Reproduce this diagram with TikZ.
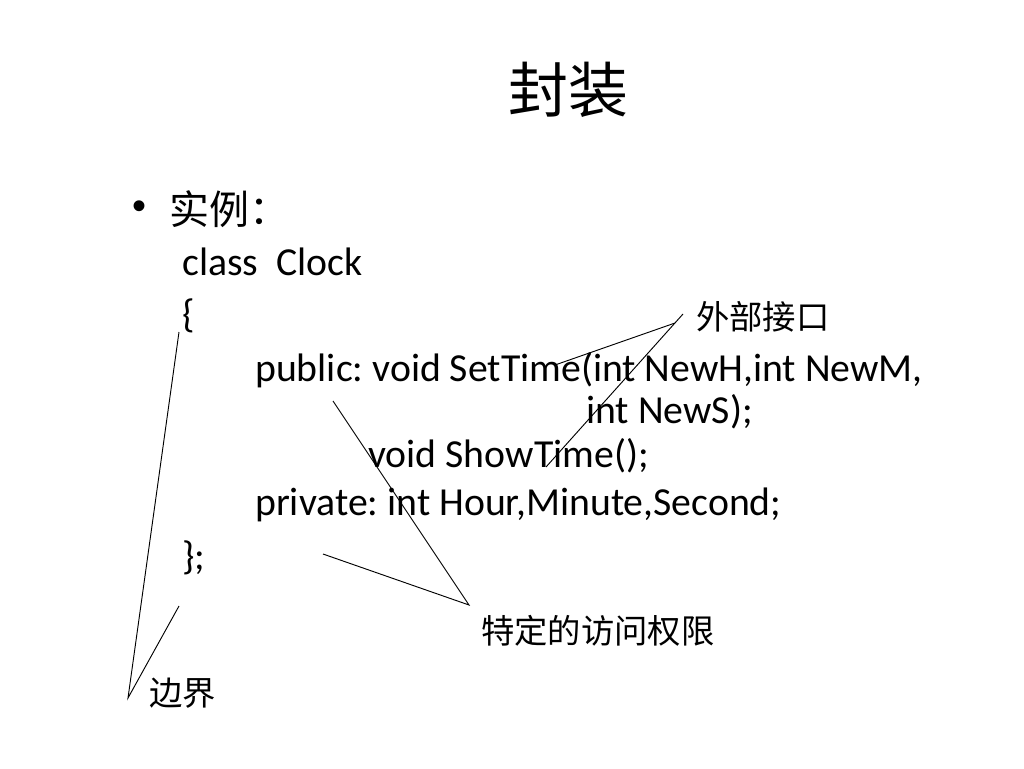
\documentclass[tikz,border=0pt]{standalone}
\usepackage{fontspec}
\setmainfont{Carlito}
\newfontfamily\cjk{Noto Sans CJK SC}
\newfontfamily\bulletfont{Liberation Sans}
\frenchspacing
\begin{document}
\begin{tikzpicture}[x=0.75pt,y=-0.75pt,
  code/.style={anchor=base west,inner sep=0pt,font=\fontsize{29.8}{36}\selectfont},
  cjklabel/.style={anchor=west,inner sep=0pt,font=\cjk\fontsize{25}{30}\selectfont},
  pointer/.style={draw=black,line width=0.7pt}]
\useasboundingbox[fill=white] (0,0) rectangle (1024,768);
% title
\node[inner sep=0pt,font=\cjk\fontsize{45}{54}\selectfont] (title) at (568,90) {封装};
% bullet
\node[inner sep=0pt,font=\bulletfont\fontsize{30}{36}\selectfont] (bullet) at (140,210) {•};
\node[anchor=west,inner sep=0pt,font=\cjk\fontsize{30}{36}\selectfont] (example) at (169,209) {实例：};
% code
\node[code] (l1) at (182,275) {class\ \ Clock};
\node[code] (l2) at (182,327) {\{};
\node[code] (l3) at (255,381) {public: void SetTime(int NewH,int NewM,};
\node[code] (l4) at (586,423) {int NewS);};
\node[code] (l5) at (368,467) {void ShowTime();};
\node[code] (l6) at (255,515) {private: int Hour,Minute,Second;};
\node[code] (l7) at (182,569) {\};};
% labels
\node[cjklabel] (iface) at (696,317) {外部接口};
\node[cjklabel] (access) at (481,631) {特定的访问权限};
\node[cjklabel] (bound) at (149,693) {边界};
% pointer coordinates
\coordinate (ifA) at (555,365);
\coordinate (ifAv) at (675,323);
\coordinate (ifB) at (546,467);
\coordinate (ifBv) at (683,314);
\coordinate (acA) at (333,401);
\coordinate (acB) at (323,554);
\coordinate (acV) at (469,605);
\coordinate (bdA) at (179,332);
\coordinate (bdB) at (179,606);
\coordinate (bdV) at (128,698);
\draw[pointer] (ifA) -- (ifAv);
\draw[pointer] (ifB) -- (ifBv);
\draw[pointer] (acA) -- (acV) -- (acB);
\draw[pointer] (bdA) -- (bdV) -- (bdB);
\end{tikzpicture}
\end{document}
